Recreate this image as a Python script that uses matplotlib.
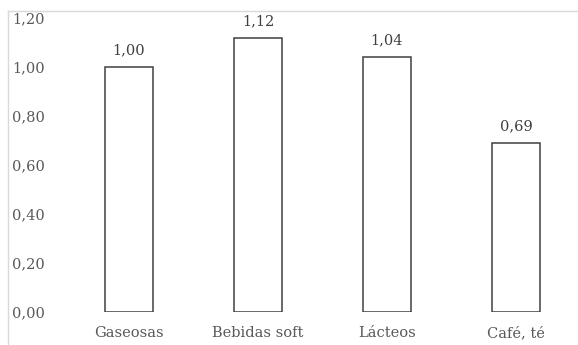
import matplotlib
matplotlib.use("Agg")
import matplotlib.pyplot as plt
from matplotlib.lines import Line2D

categories = ["Gaseosas", "Bebidas soft", "Lácteos", "Café, té"]
values = [1.00, 1.12, 1.04, 0.69]
yticks = [0.0, 0.2, 0.4, 0.6, 0.8, 1.0, 1.2]

def fmt(v):
    return f"{v:.2f}".replace(".", ",")

plt.rcParams["font.family"] = ["DejaVu Serif"]

fig = plt.figure(figsize=(5.78, 3.45), dpi=100)
ax = fig.add_axes([64.5 / 578, 1 - 312 / 345, (580.5 - 64.5) / 578, (312 - 18) / 345])

x = list(range(len(categories)))
bars = ax.bar(x, values, width=0.375, color="white", edgecolor="#404040", linewidth=1.1)

for xi, v in zip(x, values):
    ax.annotate(fmt(v), (xi, v), xytext=(0, 7), textcoords="offset points",
                ha="center", va="bottom", fontsize=10.5, color="#404040")

ax.set_xlim(-0.5, len(categories) - 0.5)
ax.set_ylim(0, 1.2)
ax.set_yticks(yticks)
ax.set_yticklabels([fmt(t) for t in yticks])
ax.set_xticks(x)
ax.set_xticklabels(categories)
ax.tick_params(axis="both", length=0, labelsize=10.5, labelcolor="#595959")
ax.tick_params(axis="y", pad=14)
ax.tick_params(axis="x", pad=10)
for s in ax.spines.values():
    s.set_visible(False)
ax.patch.set_alpha(0)

# chart-area border (top and left edges)
fig.add_artist(Line2D([8 / 578, 8 / 578], [0, 1 - 11 / 345], transform=fig.transFigure,
                      color="#d9d9d9", linewidth=1.0))
fig.add_artist(Line2D([8 / 578, 1], [1 - 11 / 345, 1 - 11 / 345], transform=fig.transFigure,
                      color="#d9d9d9", linewidth=1.0))

fig.savefig("out.png", dpi=100)
